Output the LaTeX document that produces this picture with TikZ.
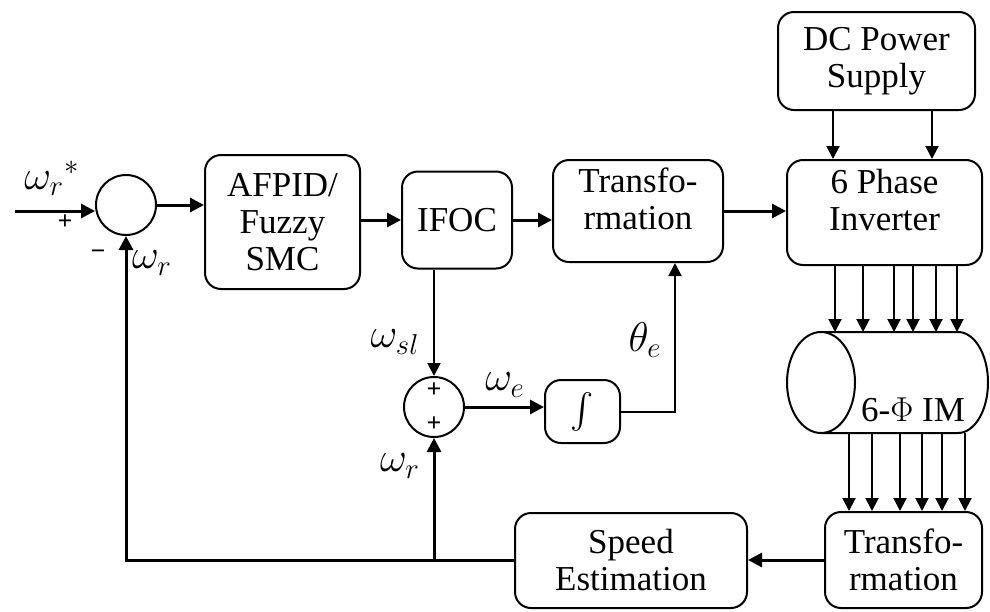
\documentclass[tikz,border=0pt]{standalone}
\usepackage{fontspec}
\setmainfont{Liberation Serif}
\usepackage{amsmath,amssymb}
\usepackage{tikz}
\usetikzlibrary{arrows.meta, positioning, calc}

\begin{document}
\begin{tikzpicture}[
  x=0.5pt, y=-0.5pt,
  blk/.style={rectangle, draw, line width=1pt, rounded corners=8pt, inner sep=0pt, align=center, font=\fontsize{17.5}{18.5}\selectfont},
  sumc/.style={circle, draw, line width=1pt, minimum size=30pt, inner sep=0pt},
  arr/.style={-{Triangle[length=7pt,width=7pt]}, line width=1.5pt},
  arrs/.style={-{Triangle[length=6.5pt,width=6.5pt]}, line width=1pt},
  lbl/.style={font=\fontsize{21}{24}\selectfont},
  sgn/.style={font=\fontsize{13}{14}\selectfont\bfseries}
]
  \useasboundingbox (0,0) rectangle (990,611);

  \node[sumc] (sum1) at (126,205) {};
  \node[blk, minimum width=77.5pt, minimum height=67pt] (afpid) at (282.5,222) {AFPID/\\Fuzzy\\SMC};
  \node[blk, minimum width=55pt, minimum height=48.5pt] (ifoc) at (457,220) {IFOC};
  \node[blk, minimum width=85pt, minimum height=51pt] (tr1) at (638,211) {Transfo-\\rmation\\[-6pt]};
  \node[blk, minimum width=97.5pt, minimum height=52.5pt] (inv) at (884.5,212.5) {6 Phase\\Inverter\\[-6pt]};
  \node[blk, minimum width=98.5pt, minimum height=49pt] (dc) at (876.5,61) {DC Power\\Supply};
  \node[sumc] (sum2) at (434,407) {};
  \node[blk, minimum width=37.5pt, minimum height=31.5pt] (intg) at (582.5,411.5) {$\int$};
  \node[blk, minimum width=78.5pt, minimum height=48pt] (tr2) at (903.5,560) {Transfo-\\rmation};
  \node[blk, minimum width=116pt, minimum height=47.5pt] (spd) at (631,560.5) {Speed\\Estimation};
  \coordinate (in) at (15,211);

  % motor
  \draw[line width=1pt] (821,332) -- (958,332) arc[start angle=-90, end angle=90, x radius=30, y radius=50.5] -- (821,433);
  \draw[line width=1pt, fill=white] (821,382.5) ellipse[x radius=34, y radius=50.5];
  \node[blk, draw=none] (im) at (913,410) {6-$\Phi$ IM};

  \draw[arr] (in) -- (in -| sum1.west);
  \draw[arr] (sum1.east) -- (sum1.east -| afpid.west);
  \draw[arr] (ifoc.west -| afpid.east) -- (ifoc.west);
  \draw[arr] (ifoc.east) -- (ifoc.east -| tr1.west);
  \draw[arr] (tr1.east) -- (tr1.east -| inv.west);
  \foreach \x in {833,932}
    \draw[arrs] (dc.south -| \x,0) -- (inv.north -| \x,0);
  \foreach \x in {835,863,894,913,936,957}
    \draw[arrs] (inv.south -| \x,0) -- (\x,332);
  \foreach \x in {849,872,900,922,942,965}
    \draw[arrs] (\x,433) -- (tr2.north -| \x,0);
  \draw[arrs] (ifoc.south -| sum2) -- (sum2.north);
  \draw[arr] (sum2.east) -- (sum2.east -| intg.west);
  \draw[arrs] (intg.east) -| ([xshift=18.5pt]tr1.south);
  \draw[arr] (tr2.west) -- (tr2.west -| spd.east);
  \draw[arr] (spd.west) -| (sum1.south);
  \coordinate (br) at (spd.west -| sum2);
  \draw[arr] (br) -- (sum2.south);

  \node[lbl] (wref) at (52,178) {$\omega_r{}^{*}$};
  \node[sgn] (p1) at (65,222) {+};
  \node[sgn] (m1) at (98,255) {\textminus};
  \node[lbl] (wr1) at (152,263) {$\omega_r$};
  \node[lbl] (wsl) at (395,342) {$\omega_{sl}$};
  \node[lbl] (we) at (505,385) {$\omega_e$};
  \node[lbl] (th) at (645,340) {$\theta_e$};
  \node[lbl] (wr2) at (400,466) {$\omega_r$};
  \node[sgn] (p2) at (434,390) {+};
  \node[sgn] (p3) at (434,424) {+};
\end{tikzpicture}
\end{document}
